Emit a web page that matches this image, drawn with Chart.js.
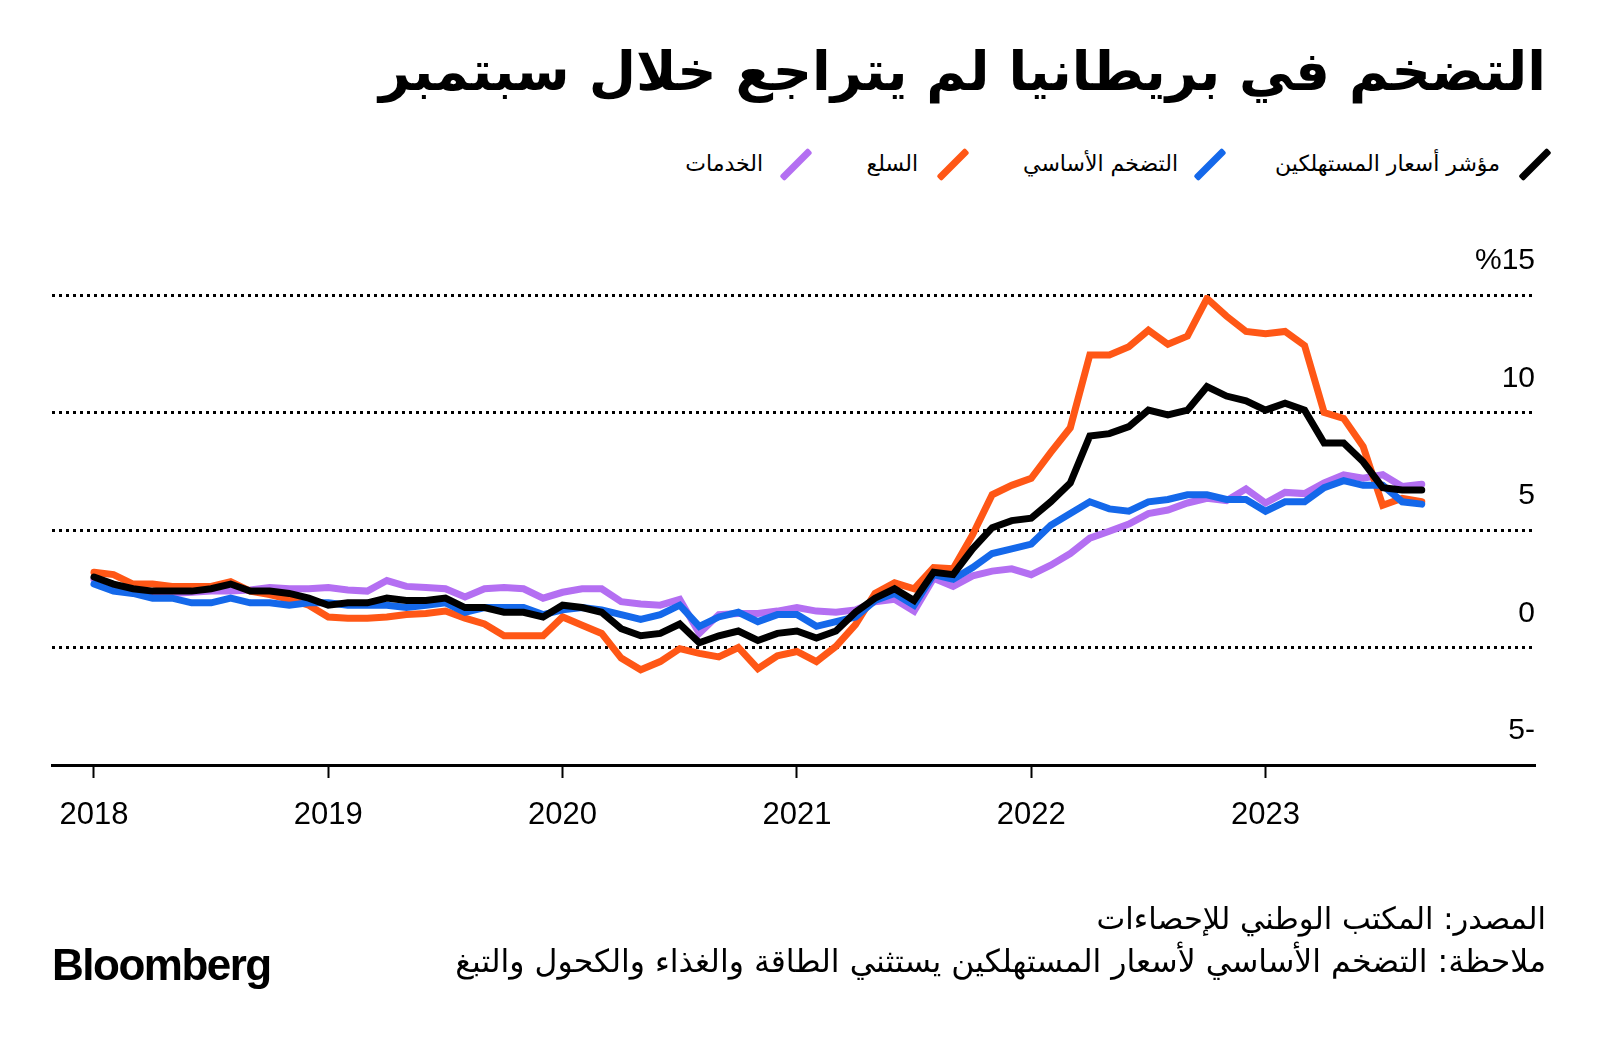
<!DOCTYPE html>
<html lang="ar">
<head>
<meta charset="UTF-8" />
<title>التضخم في بريطانيا لم يتراجع خلال سبتمبر</title>
<script src="https://cdn.jsdelivr.net/npm/chart.js"></script>
<style>
  body { margin: 0; background: #fff; width: 1600px; height: 1042px; position: relative; overflow: hidden; font-family: "DejaVu Sans", sans-serif; color: #000; }
  #title { position: absolute; right: 54px; top: 39px; font-size: 54.5px; font-weight: bold; direction: rtl; white-space: nowrap; }
  .leg { position: absolute; top: 149px; font-size: 22px; direction: rtl; white-space: nowrap; line-height: 30px; }
  .mark { position: absolute; top: 161px; width: 40px; height: 7px; transform: rotate(-45deg); border-radius: 2px; }
  #chartBox { position: absolute; left: 0; top: 0; width: 1600px; height: 1042px; }
  .foot { position: absolute; right: 54px; direction: rtl; white-space: nowrap; }
  #logo { position: absolute; left: 52px; top: 940px; font: bold 44px "Liberation Sans", sans-serif; letter-spacing: -1.5px; }
</style>
</head>
<body>
  <div id="title">التضخم في بريطانيا لم يتراجع خلال سبتمبر</div>

  <div class="mark" style="left:1515px; background:#000;"></div>
  <div class="leg" style="right:100px;">مؤشر أسعار المستهلكين</div>
  <div class="mark" style="left:1190px; background:#1468ea;"></div>
  <div class="leg" style="right:422px;">التضخم الأساسي</div>
  <div class="mark" style="left:933px; background:#ff5716;"></div>
  <div class="leg" style="right:682px;">السلع</div>
  <div class="mark" style="left:776px; background:#b46ff2;"></div>
  <div class="leg" style="right:837px;">الخدمات</div>

  <div id="chartBox"><canvas id="chart" width="1600" height="1042"></canvas></div>

  <div class="foot" style="top:901px; font-size:30.5px;">المصدر: المكتب الوطني للإحصاءات</div>
  <div class="foot" style="top:943px; font-size:31.5px;">ملاحظة: التضخم الأساسي لأسعار المستهلكين يستثني الطاقة والغذاء والكحول والتبغ</div>
  <div id="logo">Bloomberg</div>

<script>
  // monthly, Jan 2018 .. Sep 2023 (annual % change)
  const cpi = [3.0, 2.7, 2.5, 2.4, 2.4, 2.4, 2.5, 2.7, 2.4, 2.4, 2.3, 2.1,
    1.8, 1.9, 1.9, 2.1, 2.0, 2.0, 2.1, 1.7, 1.7, 1.5, 1.5, 1.3,
    1.8, 1.7, 1.5, 0.8, 0.5, 0.6, 1.0, 0.2, 0.5, 0.7, 0.3, 0.6,
    0.7, 0.4, 0.7, 1.5, 2.1, 2.5, 2.0, 3.2, 3.1, 4.2, 5.1, 5.4,
    5.5, 6.2, 7.0, 9.0, 9.1, 9.4, 10.1, 9.9, 10.1, 11.1, 10.7, 10.5,
    10.1, 10.4, 10.1, 8.7, 8.7, 7.9, 6.8, 6.7, 6.7];
  const core = [2.7, 2.4, 2.3, 2.1, 2.1, 1.9, 1.9, 2.1, 1.9, 1.9, 1.8, 1.9,
    1.9, 1.8, 1.8, 1.8, 1.7, 1.8, 1.9, 1.5, 1.7, 1.7, 1.7, 1.4,
    1.6, 1.7, 1.6, 1.4, 1.2, 1.4, 1.8, 0.9, 1.3, 1.5, 1.1, 1.4,
    1.4, 0.9, 1.1, 1.3, 2.0, 2.3, 1.8, 3.1, 2.9, 3.4, 4.0, 4.2,
    4.4, 5.2, 5.7, 6.2, 5.9, 5.8, 6.2, 6.3, 6.5, 6.5, 6.3, 6.3,
    5.8, 6.2, 6.2, 6.8, 7.1, 6.9, 6.9, 6.2, 6.1];
  const goods = [3.2, 3.1, 2.7, 2.7, 2.6, 2.6, 2.6, 2.8, 2.4, 2.25, 2.05, 1.8,
    1.3, 1.25, 1.25, 1.3, 1.4, 1.45, 1.55, 1.25, 1.0, 0.5, 0.5, 0.5,
    1.3, 0.95, 0.6, -0.45, -0.95, -0.6, -0.05, -0.25, -0.4, 0.0, -0.9, -0.35,
    -0.17, -0.6, 0.05, 0.97, 2.3, 2.75, 2.5, 3.4, 3.35, 4.8, 6.5, 6.9,
    7.2, 8.3, 9.35, 12.45, 12.45, 12.8, 13.5, 12.9, 13.25, 14.85, 14.1, 13.45,
    13.35, 13.45, 12.85, 10.0, 9.75, 8.55, 6.05, 6.35, 6.2];
  const services = [2.9, 2.65, 2.45, 2.3, 2.3, 2.35, 2.4, 2.4, 2.45, 2.55, 2.5, 2.5,
    2.55, 2.45, 2.4, 2.85, 2.6, 2.55, 2.5, 2.15, 2.5, 2.55, 2.5, 2.1,
    2.35, 2.5, 2.5, 1.95, 1.85, 1.8, 2.05, 0.6, 1.4, 1.45, 1.45, 1.55,
    1.7, 1.55, 1.5, 1.6, 1.95, 2.05, 1.55, 2.95, 2.6, 3.05, 3.25, 3.35,
    3.1, 3.5, 4.0, 4.65, 4.95, 5.25, 5.7, 5.85, 6.15, 6.35, 6.25, 6.75,
    6.15, 6.6, 6.55, 7.0, 7.35, 7.2, 7.35, 6.85, 6.95];

  const years = [2018, 2019, 2020, 2021, 2022, 2023];
  const yTicks = [-5, 0, 5, 10, 15];
  const yLabels = ['5-', '0', '5', '10', '%15'];

  function pts(arr) {
    return arr.map((v, i) => ({ x: i, y: v }));
  }

  function series(data, color) {
    return { data: pts(data), borderColor: color, borderWidth: 7, pointRadius: 0,
      tension: 0, borderCapStyle: 'round', borderJoinStyle: 'miter', fill: false };
  }

  new Chart(document.getElementById('chart'), {
    type: 'line',
    data: {
      datasets: [
        series(cpi, '#000000'),
        series(core, '#1468ea'),
        series(goods, '#ff5716'),
        series(services, '#b46ff2')
      ]
    },
    options: {
      responsive: false,
      animation: false,
      layout: { padding: { left: 52, right: 65, top: 295, bottom: 217 } },
      plugins: { legend: { display: false }, tooltip: { enabled: false } },
      scales: {
        x: {
          type: 'linear', min: -2.15, max: 73.8,
          afterBuildTicks: s => { s.ticks = years.map(y => ({ value: (y - 2018) * 12 })); },
          afterFit: s => { s.height = 60; },
          ticks: {
            callback: v => String(2018 + v / 12),
            color: '#000', padding: 19, maxRotation: 0, autoSkip: false,
            font: { family: 'Liberation Sans', size: 31 }
          },
          grid: { drawOnChartArea: false, tickLength: 13, tickWidth: 2, tickColor: '#000' },
          border: { display: true, color: '#000', width: 3 }
        },
        y: {
          type: 'linear', position: 'right', min: -5, max: 15,
          afterBuildTicks: s => { s.ticks = yTicks.map(v => ({ value: v })); },
          afterFit: s => { s.width = 0; },
          ticks: {
            mirror: true, padding: 0, labelOffset: -34, color: '#000',
            font: { family: 'Liberation Sans', size: 30 },
            callback: v => yLabels[yTicks.indexOf(v)]
          },
          grid: {
            drawTicks: false, lineWidth: 3,
            color: c => (c.tick && c.tick.value === -5) ? 'rgba(0,0,0,0)' : '#000'
          },
          border: { display: false, dash: [3, 4] }
        }
      }
    }
  });
</script>
</body>
</html>
